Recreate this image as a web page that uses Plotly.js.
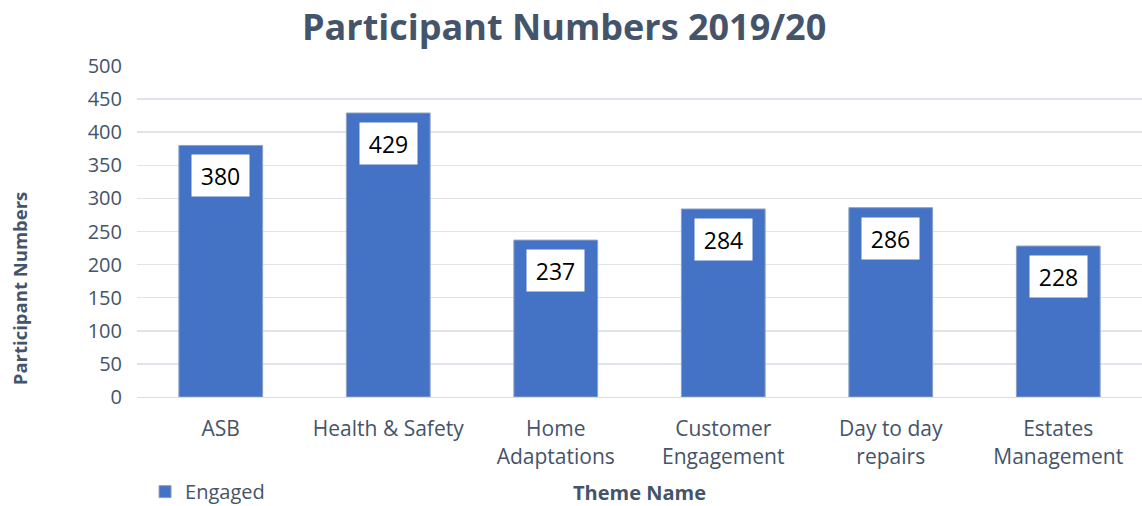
<!DOCTYPE html>
<html>
<head>
<meta charset="utf-8">
<script src="https://cdn.plot.ly/plotly-3.0.1.min.js"></script>
<style>html,body{margin:0;padding:0;background:#fff;}#chart{width:1142px;height:506px;}</style>
</head>
<body>
<div id="chart"></div>
<script>
const categories = ["ASB", "Health & Safety", "Home<br>Adaptations", "Customer<br>Engagement", "Day to day<br>repairs", "Estates<br>Management"];
const engaged = [380, 429, 237, 284, 286, 228];
const seriesName = "Engaged";
const yTicks = [0, 50, 100, 150, 200, 250, 300, 350, 400, 450, 500];

const FONT = "Open Sans, Liberation Sans, sans-serif";
const TXT = "#44546A";

const trace = {
  type: "bar",
  x: categories,
  y: engaged,
  name: seriesName,
  marker: {color: "#4472C4", line: {color: "#8EA0C4", width: 1}},
  hoverinfo: "x+y"
};

const annotations = categories.map((c, i) => ({
  x: c, y: engaged[i], xref: "x", yref: "y",
  text: String(engaged[i]),
  showarrow: false,
  yanchor: "top",
  yshift: -9,
  bgcolor: "#ffffff",
  width: 53, height: 37,
  borderpad: 2,
  font: {family: FONT, size: 23, color: "#000000"}
}));

annotations.push({
  xref: "paper", yref: "paper",
  x: -0.117, y: 0.33,
  text: "<b>Participant Numbers</b>",
  textangle: -90,
  showarrow: false,
  xanchor: "center", yanchor: "middle",
  font: {family: FONT, size: 18.5, color: TXT}
});

const layout = {
  width: 1142, height: 506,
  margin: {l: 137, r: 0, t: 66, b: 109, autoexpand: false},
  paper_bgcolor: "#ffffff",
  plot_bgcolor: "#ffffff",
  font: {family: FONT, color: TXT},
  title: {
    text: "<b>Participant Numbers 2019/20</b>",
    font: {family: FONT, size: 36, color: TXT},
    x: 0.494, xanchor: "center",
    y: 0.945, yanchor: "middle"
  },
  bargap: 0.5,
  showlegend: true,
  legend: {
    orientation: "h",
    x: 0.008, xanchor: "left",
    y: -0.227, yanchor: "top",
    font: {family: FONT, size: 20, color: TXT},
    itemwidth: 30
  },
  xaxis: {
    type: "category",
    automargin: false,
    tickfont: {family: FONT, size: 21, color: TXT},
    showgrid: false,
    showline: true, linecolor: "#D9DEE6", linewidth: 1,
    ticks: "",
    ticklabelstandoff: 13,
    title: {text: "<b>Theme Name</b>", font: {family: FONT, size: 20, color: TXT}, standoff: 18}
  },
  yaxis: {
    automargin: false,
    range: [0, 500],
    tickvals: yTicks,
    ticktext: yTicks.map(String),
    tickfont: {family: FONT, size: 20, color: TXT},
    showgrid: true, gridcolor: "#DFE3EA", gridwidth: 1.5,
    zeroline: false,
    ticks: "",
    ticklabelstandoff: 14,
    fixedrange: true
  },
  annotations: annotations
};

Plotly.newPlot("chart", [trace], layout, {displayModeBar: false, staticPlot: true});
</script>
</body>
</html>
